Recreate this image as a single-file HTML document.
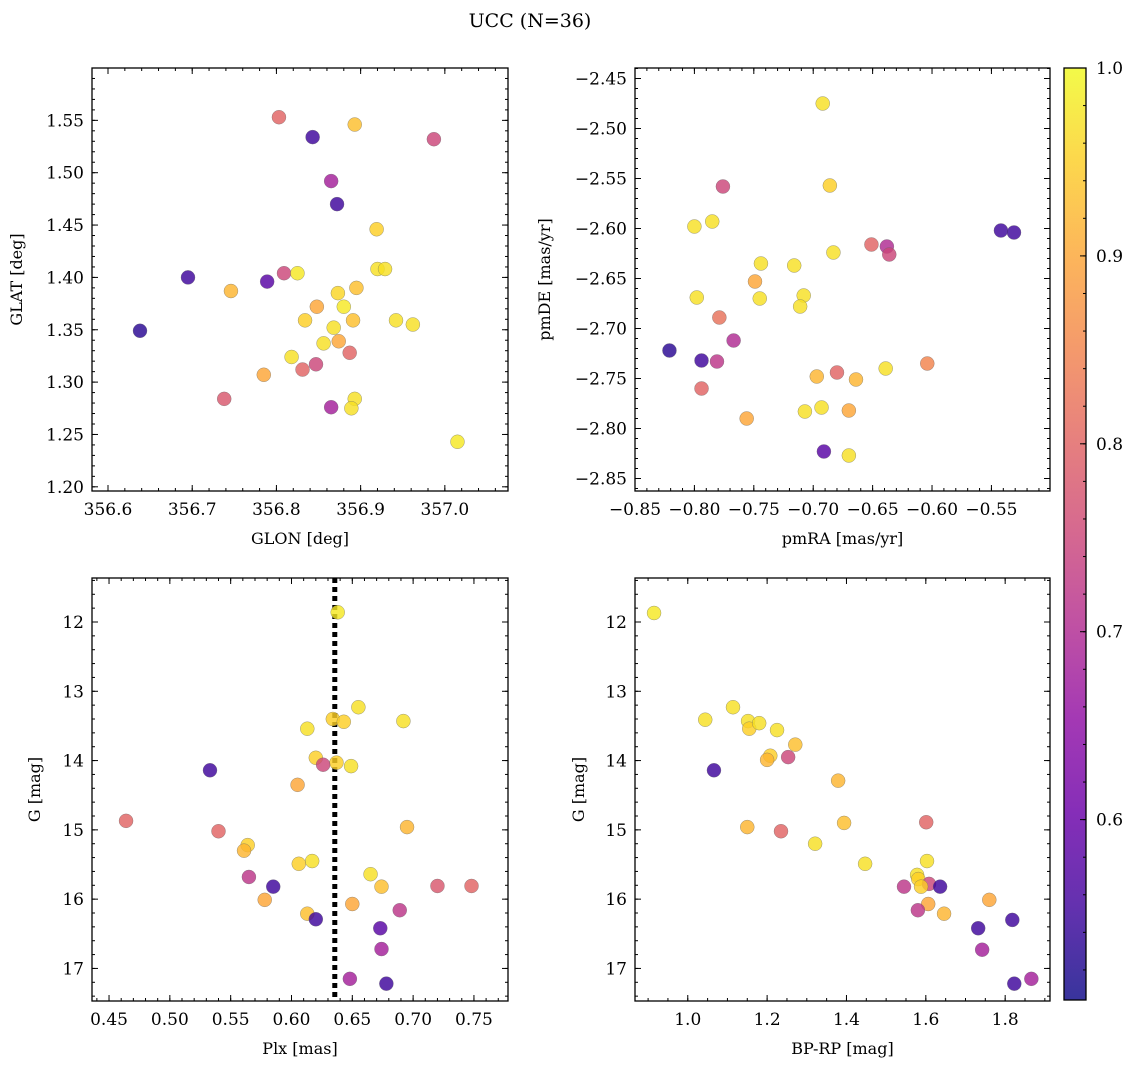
<!DOCTYPE html>
<html><head><meta charset="utf-8"><style>
html,body{margin:0;padding:0;background:#fff;}
svg{display:block;font-family:"DejaVu Serif","Liberation Serif",serif;}
</style></head><body>
<svg id="fig" width="1136" height="1068" viewBox="0 0 1136 1068" xmlns="http://www.w3.org/2000/svg">
<text x="530" y="27" font-size="19" text-anchor="middle">UCC (N=36)</text>
</svg>
<script>
// Panel 1: GLON / GLAT
const glon=[356.803,356.843,356.893,356.987,356.865,356.872,356.919,356.695,356.789,356.809,356.825,356.746,356.920,356.929,356.895,356.873,356.848,356.880,356.834,356.891,356.942,356.962,356.868,356.638,356.856,356.874,356.887,356.818,356.847,356.831,356.785,356.738,356.893,356.865,356.889,357.015];
const glat=[1.553,1.534,1.546,1.532,1.492,1.470,1.446,1.400,1.396,1.404,1.404,1.387,1.408,1.408,1.390,1.385,1.372,1.372,1.359,1.359,1.359,1.355,1.352,1.349,1.337,1.339,1.328,1.324,1.317,1.312,1.307,1.284,1.284,1.276,1.275,1.243];
const c1=[0.8,0.55,0.93,0.75,0.68,0.55,0.95,0.55,0.58,0.75,0.98,0.92,0.97,0.97,0.93,0.96,0.9,0.98,0.95,0.93,0.97,0.97,0.97,0.53,0.97,0.9,0.8,0.97,0.75,0.8,0.9,0.78,0.97,0.68,0.97,0.98];
// Panel 2: pmRA / pmDE
const pmra=[-0.692,-0.776,-0.686,-0.800,-0.785,-0.542,-0.531,-0.651,-0.638,-0.636,-0.744,-0.716,-0.683,-0.749,-0.745,-0.798,-0.708,-0.711,-0.779,-0.767,-0.821,-0.794,-0.781,-0.604,-0.639,-0.697,-0.680,-0.664,-0.794,-0.707,-0.693,-0.670,-0.756,-0.691,-0.670];
const pmde=[-2.475,-2.558,-2.557,-2.598,-2.593,-2.602,-2.604,-2.616,-2.618,-2.626,-2.635,-2.637,-2.624,-2.653,-2.670,-2.669,-2.667,-2.678,-2.689,-2.712,-2.722,-2.732,-2.733,-2.735,-2.740,-2.748,-2.744,-2.751,-2.760,-2.783,-2.779,-2.782,-2.790,-2.823,-2.827];
const c2=[0.97,0.75,0.95,0.97,0.97,0.55,0.55,0.8,0.7,0.75,0.97,0.97,0.97,0.9,0.97,0.97,0.97,0.97,0.82,0.7,0.53,0.55,0.72,0.85,0.97,0.92,0.8,0.92,0.8,0.97,0.97,0.9,0.9,0.58,0.97];
// Panel 3: Plx / G
const plx=[0.638,0.655,0.634,0.643,0.692,0.613,0.533,0.620,0.637,0.626,0.649,0.605,0.464,0.695,0.540,0.564,0.561,0.617,0.606,0.665,0.565,0.585,0.674,0.720,0.748,0.578,0.650,0.689,0.613,0.620,0.673,0.674,0.648,0.678];
const g3=[11.86,13.23,13.40,13.44,13.43,13.54,14.14,13.96,14.03,14.06,14.08,14.35,14.87,14.96,15.02,15.22,15.30,15.45,15.49,15.64,15.68,15.82,15.82,15.81,15.81,16.01,16.07,16.16,16.21,16.29,16.42,16.72,17.15,17.22];
const c3=[0.98,0.97,0.95,0.95,0.97,0.97,0.55,0.95,0.95,0.75,0.97,0.9,0.8,0.92,0.8,0.95,0.92,0.97,0.95,0.97,0.72,0.55,0.93,0.78,0.8,0.9,0.9,0.72,0.93,0.55,0.58,0.68,0.68,0.55];
const plxLine=[0.6356];
// Panel 4: BP-RP / G
const bprp=[0.915,1.044,1.114,1.066,1.152,1.155,1.180,1.225,1.208,1.200,1.253,1.271,1.150,1.235,1.379,1.321,1.394,1.447,1.578,1.581,1.603,1.601,1.545,1.608,1.636,1.588,1.760,1.606,1.646,1.580,1.732,1.818,1.742,1.823,1.866];
const g4=[11.87,13.41,13.23,14.14,13.43,13.54,13.46,13.56,13.93,13.99,13.95,13.77,14.96,15.02,14.29,15.20,14.90,15.49,15.65,15.71,15.45,14.89,15.82,15.78,15.82,15.82,16.01,16.07,16.21,16.16,16.42,16.30,16.73,17.22,17.15];
const c4=[0.98,0.97,0.97,0.55,0.97,0.95,0.97,0.97,0.95,0.92,0.75,0.93,0.92,0.8,0.92,0.97,0.93,0.97,0.97,0.95,0.97,0.8,0.72,0.75,0.55,0.95,0.9,0.9,0.92,0.72,0.55,0.55,0.68,0.55,0.68];
// Colorbar
const cbTicks=[0.6,0.7,0.8,0.9,1.0];
const cmin=0.504, cmax=1.0;

const NS="http://www.w3.org/2000/svg";
const svg=document.getElementById('fig');
function mk(tag,attrs,parent){const e=document.createElementNS(NS,tag);for(const k in attrs)e.setAttribute(k,attrs[k]);(parent||svg).appendChild(e);return e;}
const plasma=[[13,8,135],[65,4,157],[106,0,168],[143,13,164],[177,42,144],[204,71,120],[225,100,98],[242,132,75],[252,166,54],[252,206,37],[240,249,33]];
function cmap(v){let t=(v-cmin)/(cmax-cmin);t=Math.max(0,Math.min(1,t));const f=t*10,i=Math.min(9,Math.floor(f)),r=f-i;const a=plasma[i],b=plasma[i+1];return 'rgb('+a.map((x,j)=>Math.round(x+(b[j]-x)*r)).join(',')+')';}
function fmt(v,d){return (v<0?'\u2212':'')+Math.abs(v).toFixed(d);}
const TF=17;

function panel(o){
  const g=mk('g',{});
  
  
  const sx=v=>o.x0+(v-o.xd[0])/(o.xd[1]-o.xd[0])*(o.x1-o.x0);
  const sy=v=>o.yinv? o.y0+(v-o.yd[0])/(o.yd[1]-o.yd[0])*(o.y1-o.y0) : o.y1-(v-o.yd[0])/(o.yd[1]-o.yd[0])*(o.y1-o.y0);
  const eps=1e-9;
  function ticksX(step,len){const s=Math.ceil((o.xd[0]-eps)/step),e=Math.floor((o.xd[1]+eps)/step);for(let k=s;k<=e;k++){const x=sx(k*step);mk('line',{x1:x,x2:x,y1:o.y1,y2:o.y1-len,stroke:'#000','stroke-width':1},g);mk('line',{x1:x,x2:x,y1:o.y0,y2:o.y0+len,stroke:'#000','stroke-width':1},g);}}
  function ticksY(step,len){const lo=Math.min(o.yd[0],o.yd[1]),hi=Math.max(o.yd[0],o.yd[1]);const s=Math.ceil((lo-eps)/step),e=Math.floor((hi+eps)/step);for(let k=s;k<=e;k++){const y=sy(k*step);mk('line',{y1:y,y2:y,x1:o.x0,x2:o.x0+len,stroke:'#000','stroke-width':1},g);mk('line',{y1:y,y2:y,x1:o.x1,x2:o.x1-len,stroke:'#000','stroke-width':1},g);}}
  ticksX(o.xminor,3);ticksX(o.xmajor,6);ticksY(o.yminor,3);ticksY(o.ymajor,6);
  o.xlabels.forEach(v=>{const t=mk('text',{x:sx(v),y:o.y1+24,'font-size':TF,'text-anchor':'middle'},g);t.textContent=fmt(v,o.xdec);});
  o.ylabels.forEach(v=>{const t=mk('text',{x:o.x0-8,y:sy(v)+6,'font-size':TF,'text-anchor':'end'},g);t.textContent=fmt(v,o.ydec);});
  const xt=mk('text',{x:(o.x0+o.x1)/2,y:o.y1+53,'font-size':16,'text-anchor':'middle'},g);xt.textContent=o.xtitle;
  
  
  const yt=mk('text',{x:o.ytx,y:(o.y0+o.y1)/2,'font-size':16,'text-anchor':'middle',transform:'rotate(-90 '+o.ytx+' '+(o.y0+o.y1)/2+')'},g);yt.textContent=o.ytitle;
  
  
  if(o.vline){o.vline.forEach(v=>{const l=mk('line',{x1:sx(v),x2:sx(v),y1:o.y0,y2:o.y1,stroke:'#000','stroke-width':5,'stroke-dasharray':'5,4'},g);});}
  o.xs.forEach((v,i)=>{const c=mk('circle',{cx:sx(v),cy:sy(o.ys[i]),r:7,fill:cmap(o.cs[i]),'fill-opacity':0.82,stroke:'#666','stroke-width':0.4,'stroke-opacity':0.8},g);
    
    });
  const f=mk('rect',{x:o.x0,y:o.y0,width:o.x1-o.x0,height:o.y1-o.y0,fill:'none',stroke:'#000','stroke-width':1.3},g);
  
  
}
panel({name:'glon-glat-panel',x0:92,x1:508,y0:68,y1:491,xd:[356.581,357.075],yd:[1.196,1.600],xmajor:0.1,xminor:0.02,ymajor:0.05,yminor:0.01,xlabels:[356.6,356.7,356.8,356.9,357.0],xdec:1,ylabels:[1.20,1.25,1.30,1.35,1.40,1.45,1.50,1.55],ydec:2,xtitle:'GLON [deg]',ytitle:'GLAT [deg]',ytx:22,xs:glon,ys:glat,cs:c1});
panel({name:'pm-panel',x0:635,x1:1050,y0:68,y1:491,xd:[-0.85,-0.5007],yd:[-2.8625,-2.4395],xmajor:0.05,xminor:0.01,ymajor:0.05,yminor:0.01,xlabels:[-0.85,-0.80,-0.75,-0.70,-0.65,-0.60,-0.55],xdec:2,ylabels:[-2.85,-2.80,-2.75,-2.70,-2.65,-2.60,-2.55,-2.50,-2.45],ydec:2,xtitle:'pmRA [mas/yr]',ytitle:'pmDE [mas/yr]',ytx:550,xs:pmra,ys:pmde,cs:c2});
panel({name:'plx-g-panel',x0:92,x1:508,y0:578,y1:1001,xd:[0.436,0.778],yd:[11.365,17.47],yinv:true,xmajor:0.05,xminor:0.01,ymajor:1,yminor:0.2,xlabels:[0.45,0.50,0.55,0.60,0.65,0.70,0.75],xdec:2,ylabels:[12,13,14,15,16,17],ydec:0,xtitle:'Plx [mas]',ytitle:'G [mag]',ytx:40,xs:plx,ys:g3,cs:c3,vline:plxLine});
panel({name:'color-magnitude-panel',x0:635,x1:1050,y0:578,y1:1001,xd:[0.867,1.913],yd:[11.365,17.47],yinv:true,xmajor:0.2,xminor:0.05,ymajor:1,yminor:0.2,xlabels:[1.0,1.2,1.4,1.6,1.8],xdec:1,ylabels:[12,13,14,15,16,17],ydec:0,xtitle:'BP-RP [mag]',ytitle:'G [mag]',ytx:584,xs:bprp,ys:g4,cs:c4});

const cb=mk('g',{});


const defs=mk('defs',{},cb);const grad=mk('linearGradient',{id:'cbg',x1:0,y1:1,x2:0,y2:0},defs);
for(let i=0;i<=20;i++){const v=cmin+(cmax-cmin)*i/20;mk('stop',{offset:(i/20),'stop-color':cmap(v),'stop-opacity':0.82},grad);}
const cbx0=1064,cbx1=1086,cby0=68,cby1=1000;
const cy=v=>cby1-(v-cmin)/(cmax-cmin)*(cby1-cby0);
mk('rect',{x:cbx0,y:cby0,width:cbx1-cbx0,height:cby1-cby0,fill:'url(#cbg)'},cb);
for(let k=26;k<=50;k++){const v=k*0.02;if(v<cmin)continue;const y=cy(v);mk('line',{x1:cbx1,x2:cbx1-3,y1:y,y2:y,stroke:'#000'},cb);}
cbTicks.forEach(v=>{const y=cy(v);mk('line',{x1:cbx1,x2:cbx1-6,y1:y,y2:y,stroke:'#000'},cb);const t=mk('text',{x:cbx1+10,y:y+6,'font-size':TF},cb);t.textContent=v.toFixed(1);});
mk('rect',{x:cbx0,y:cby0,width:cbx1-cbx0,height:cby1-cby0,fill:'none',stroke:'#000','stroke-width':1.3},cb);
</script>
</body></html>
